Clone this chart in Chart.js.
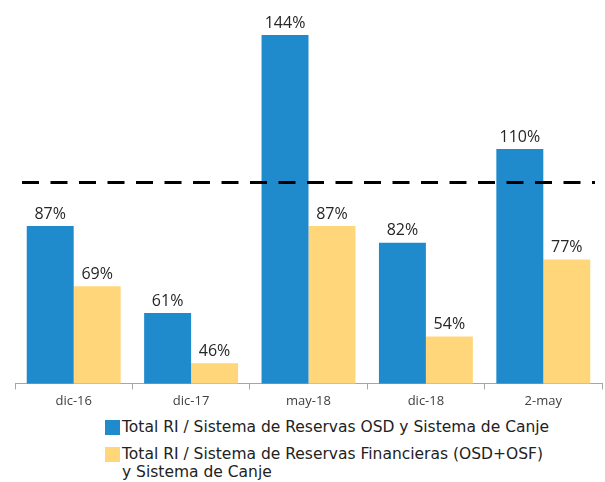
<!DOCTYPE html>
<html>
<head>
<meta charset="utf-8">
<script src="https://cdn.jsdelivr.net/npm/chart.js@4/dist/chart.umd.min.js"></script>
<style>
  body { margin: 0; background: #fff; }
  #wrap { position: relative; width: 605px; height: 482px; }
  #box { position: absolute; left: 0; top: 0; width: 605px; height: 413px; }
  #legend { position: absolute; left: 105px; top: 418px; font-family: "DejaVu Sans", sans-serif; font-size: 15.5px; color: #222; line-height: 18px; }
  #legend .row { position: relative; padding-left: 17px; margin-bottom: 9px; }
  #legend .sw { position: absolute; left: 0; top: 2px; width: 15px; height: 15px; }
</style>
</head>
<body>
<div id="wrap">
  <div id="box"><canvas id="chart"></canvas></div>
  <div id="legend">
    <div class="row"><span class="sw" style="background:#1f8bcc"></span>Total RI / Sistema de Reservas OSD y Sistema de Canje</div>
    <div class="row"><span class="sw" style="background:#ffd77a"></span>Total RI / Sistema de Reservas Financieras (OSD+OSF)<br>y Sistema de Canje</div>
  </div>
</div>
<script>
var labels = ['dic-16', 'dic-17', 'may-18', 'dic-18', '2-may'];
var osdCanje = [87, 61, 144, 82, 110];
var financieras = [69, 46, 87, 54, 77];
var threshold = 100;

// value labels above the bars
var valueLabels = {
  id: 'valueLabels',
  afterDatasetsDraw: function(chart) {
    var ctx = chart.ctx;
    ctx.save();
    ctx.font = '16px "Open Sans", sans-serif';
    ctx.fillStyle = '#262626';
    ctx.textAlign = 'center';
    ctx.textBaseline = 'bottom';
    chart.data.datasets.forEach(function(ds, i) {
      chart.getDatasetMeta(i).data.forEach(function(bar, j) {
        ctx.fillText(ds.data[j] + '%', bar.x, bar.y - 4);
      });
    });
    ctx.restore();
  }
};

// dashed reference line at 100%
var refLine = {
  id: 'refLine',
  afterDatasetsDraw: function(chart) {
    var ctx = chart.ctx;
    var y = chart.scales.y.getPixelForValue(threshold);
    ctx.save();
    ctx.strokeStyle = '#000';
    ctx.lineWidth = 3;
    ctx.setLineDash([17, 11.5]);
    ctx.beginPath();
    ctx.moveTo(22, y);
    ctx.lineTo(595, y);
    ctx.stroke();
    ctx.restore();
  }
};

var ctx = document.getElementById('chart').getContext('2d');
var chart = new Chart(ctx, {
  type: 'bar',
  data: {
    labels: labels,
    datasets: [{
      label: 'Total RI / Sistema de Reservas OSD y Sistema de Canje',
      data: osdCanje,
      backgroundColor: '#1f8bcc'
    }, {
      label: 'Total RI / Sistema de Reservas Financieras (OSD+OSF) y Sistema de Canje',
      data: financieras,
      backgroundColor: '#ffd77a'
    }]
  },
  options: {
    responsive: true,
    maintainAspectRatio: false,
    animation: false,
    layout: { padding: { top: 15, left: 15, right: 3, bottom: 0 } },
    datasets: { bar: { categoryPercentage: 0.8, barPercentage: 1.0 } },
    plugins: { legend: { display: false }, tooltip: { enabled: false } },
    scales: {
      x: {
        grid: { display: true, drawOnChartArea: false, offset: true, tickLength: 6, color: '#a6a6a6' },
        border: { color: '#a6a6a6' },
        ticks: { color: '#404040', font: { family: '"Open Sans", sans-serif', size: 13 }, padding: 4 }
      },
      y: { display: false, min: 40, max: 150 }
    }
  },
  plugins: [valueLabels, refLine]
});
</script>
</body>
</html>
